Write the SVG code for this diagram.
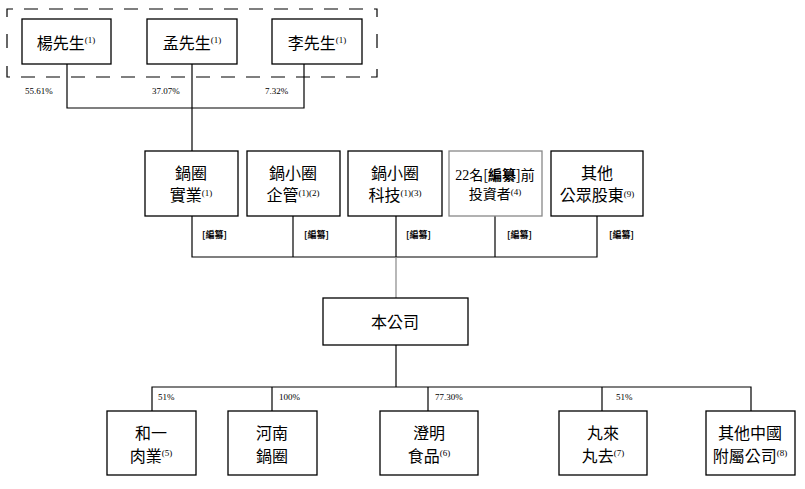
<svg xmlns="http://www.w3.org/2000/svg" width="805" height="489" viewBox="0 0 805 489">
<style>
.box{fill:#fff;stroke:#000;stroke-width:1.3}
.gbox{fill:#fff;stroke:#888;stroke-width:1.3}
.ln{fill:none;stroke:#000;stroke-width:1.2}
.gln{fill:none;stroke:#888;stroke-width:1.2}
.dash{fill:none;stroke:#000;stroke-width:1.2;stroke-dasharray:14 11}
.t{font-family:"Noto Sans CJK TC","Noto Sans CJK SC",sans-serif;font-size:16px;fill:#000;text-anchor:middle}
.t2{font-family:"Noto Sans CJK TC","Noto Sans CJK SC",sans-serif;font-size:14px;fill:#000;text-anchor:middle}
.sup{font-family:"Liberation Serif",serif;font-size:9px}
.num{font-family:"Liberation Serif",serif}
.p{font-family:"Liberation Serif",serif;font-size:9px;fill:#000}
.r{font-family:"Noto Sans CJK TC",sans-serif;font-size:9px;font-weight:bold;fill:#000}
</style>
<g id="connectors">
<path class="dash" d="M7,17 V9 H377 V17"/>
<path class="dash" d="M7,34 V48"/>
<path class="dash" d="M377,34 V48"/>
<path class="dash" d="M7,66 V77 H377 V66"/>
<path class="ln" d="M67,64 V108 H304 V64"/>
<path class="ln" d="M192,64 V151"/>
<path class="ln" d="M192,216 V257 H597 V216"/>
<path class="ln" d="M293,216 V257"/>
<path class="ln" d="M396,216 V257"/>
<path class="ln" d="M495,216 V257"/>
<path class="gln" d="M396,257 V298"/>
<path class="ln" d="M396,345 V387"/>
<path class="ln" d="M152,411 V387 H751 V411"/>
<path class="ln" d="M272,387 V411"/>
<path class="ln" d="M428,387 V411"/>
<path class="ln" d="M602,387 V411"/>
<text class="p" x="25" y="94">55.61%</text>
<text class="p" x="152" y="94">37.07%</text>
<text class="p" x="265" y="94">7.32%</text>
<text class="r" x="202" y="238">[編纂]</text>
<text class="r" x="304" y="238">[編纂]</text>
<text class="r" x="406" y="238">[編纂]</text>
<text class="r" x="507" y="238">[編纂]</text>
<text class="r" x="609" y="238">[編纂]</text>
<text class="p" x="158" y="400">51%</text>
<text class="p" x="279" y="400">100%</text>
<text class="p" x="435" y="400">77.30%</text>
<text class="p" x="616" y="400">51%</text>
</g>
<g id="yang"><rect class="box" x="22" y="19" width="89" height="45"/><text class="t" x="66" y="49">楊先生<tspan class="sup" dy="-6">(1)</tspan></text></g>
<g id="meng"><rect class="box" x="147" y="19" width="90" height="45"/><text class="t" x="192" y="49">孟先生<tspan class="sup" dy="-6">(1)</tspan></text></g>
<g id="li"><rect class="box" x="272" y="19" width="90" height="45"/><text class="t" x="317" y="49">李先生<tspan class="sup" dy="-6">(1)</tspan></text></g>
<g id="guoquan-shiye"><rect class="box" x="145" y="151" width="93" height="65"/><text class="t" x="191" y="179">鍋圈</text><text class="t" x="191" y="201">實業<tspan class="sup" dy="-5">(1)</tspan></text></g>
<g id="guoxiaoquan-qiguan"><rect class="box" x="247" y="151" width="93" height="65"/><text class="t" x="293" y="179">鍋小圈</text><text class="t" x="293" y="201">企管<tspan class="sup" dy="-5">(1)(2)</tspan></text></g>
<g id="guoxiaoquan-keji"><rect class="box" x="348" y="151" width="94" height="65"/><text class="t" x="395" y="179">鍋小圈</text><text class="t" x="395" y="201">科技<tspan class="sup" dy="-5">(1)(3)</tspan></text></g>
<g id="investors"><rect class="gbox" x="449" y="151" width="93" height="65"/><text class="t2" x="495" y="180"><tspan class="num">22</tspan>名[<tspan font-weight="bold">編纂</tspan>]前</text><text class="t2" x="495" y="199">投資者<tspan class="sup" font-size="8" dy="-4">(4)</tspan></text></g>
<g id="other-public"><rect class="box" x="551" y="151" width="92" height="65"/><text class="t" x="597" y="179">其他</text><text class="t" x="597" y="201">公眾股東<tspan class="sup" font-size="8" dy="-4">(9)</tspan></text></g>
<g id="company"><rect class="box" x="323" y="298" width="145" height="47"/><text class="t" x="395" y="328">本公司</text></g>
<g id="heyi"><rect class="box" x="107" y="411" width="89" height="64"/><text class="t" x="151" y="439">和一</text><text class="t" x="151" y="462">肉業<tspan class="sup" dy="-6">(5)</tspan></text></g>
<g id="henan"><rect class="box" x="228" y="411" width="89" height="64"/><text class="t" x="272" y="439">河南</text><text class="t" x="272" y="462">鍋圈</text></g>
<g id="chengming"><rect class="box" x="380" y="411" width="98" height="64"/><text class="t" x="429" y="439">澄明</text><text class="t" x="429" y="462">食品<tspan class="sup" dy="-6">(6)</tspan></text></g>
<g id="wanlai"><rect class="box" x="559" y="411" width="88" height="64"/><text class="t" x="603" y="439">丸來</text><text class="t" x="603" y="462">丸去<tspan class="sup" dy="-6">(7)</tspan></text></g>
<g id="other-prc"><rect class="box" x="706" y="411" width="89" height="64"/><text class="t" x="750" y="439">其他中國</text><text class="t" x="750" y="462">附屬公司<tspan class="sup" dy="-6">(8)</tspan></text></g>
</svg>
